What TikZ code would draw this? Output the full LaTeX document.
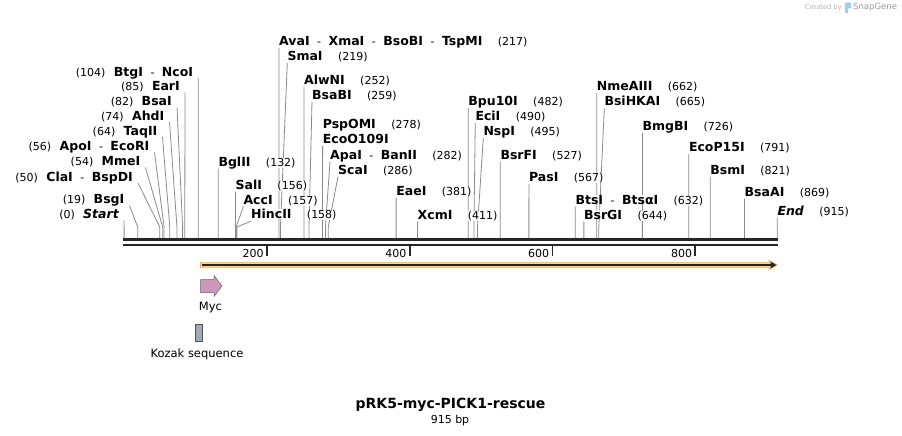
\documentclass[tikz,border=0pt]{standalone}
\usepackage{fontspec}
\setmainfont{DejaVu Sans}
\usetikzlibrary{arrows.meta}
\pgfdeclarelayer{bg}
\pgfsetlayers{bg,main}
\definecolor{cutline}{HTML}{8A8A8A}
\definecolor{spine}{HTML}{262626}
\definecolor{orf}{HTML}{FAD58C}
\definecolor{orfedge}{HTML}{F0B454}
\definecolor{myc}{HTML}{CC9AB9}
\definecolor{mycedge}{HTML}{6E5A66}
\definecolor{kozak}{HTML}{A4A9B1}
\definecolor{kozakedge}{HTML}{4E5359}
\definecolor{credit}{HTML}{B4B4B4}
\definecolor{logoblue}{HTML}{9CCFF0}
\newcommand{\sitesep}{\hspace{7.5pt}{\mdseries\fontsize{11}{13}\selectfont-}\hspace{7.5pt}}
\newcommand{\bpx}[1]{124.1+0.7139*#1}

\begin{document}
\begin{tikzpicture}[x=1pt, y=-1pt,
    enz/.style={font=\fontsize{12.5}{14}\selectfont\bfseries, inner sep=0pt,
      fill=white, fill opacity=0.85, text opacity=1},
    bpnum/.style={font=\fontsize{11}{13}\selectfont, inner sep=0pt,
      fill=white, fill opacity=0.85, text opacity=1},
    cutln/.style={draw=cutline, line width=0.8pt},
    ticklbl/.style={font=\fontsize{11}{13}\selectfont, inner sep=0pt, anchor=east},
    featlbl/.style={font=\fontsize{11.5}{13}\selectfont, inner sep=0pt}]
  \useasboundingbox (0,0) rectangle (902,436);
  % backbone
  \coordinate (bbL) at (123.4,239.7);
  \coordinate (bbR) at (778.3,239.7);
  \draw[spine, line width=2.8pt] (bbL) -- (bbR);
  \draw[spine, line width=2.8pt] ([yshift=-5.2pt]bbL) -- ([yshift=-5.2pt]bbR);
  \foreach \t in {200,400,600,800}{
    \coordinate (tk\t) at ({\bpx{\t}},246);
    \draw[spine, line width=1.8pt] (tk\t) -- ++(0,10);
    \node[ticklbl] (tl\t) at ([xshift=-3pt,yshift=-7pt]tk\t) {\t};
  }
  % sites left of their line
  \foreach \bp/\ex/\cy/\nm in {104/193.3/72/{BtgI\sitesep NcoI},
      85/180/86.5/EarI, 82/172/101.5/BsaI, 74/164.5/116/AhdI,
      64/157.5/131/TaqII, 56/149.5/146.5/{ApoI\sitesep EcoRI},
      54/140.5/161.5/MmeI, 50/133/177/{ClaI\sitesep BspDI},
      19/124.5/199.5/BsgI, 0/119/214.5/{\itshape Start}}{
    \node[enz, anchor=base east] (lab\bp) at (\ex,\cy+4.2) {\nm};
    \node[bpnum, anchor=base east] (num\bp) at ([xshift=-8pt]lab\bp.base west) {(\bp)};
    \coordinate (knee\bp) at ({\bpx{\bp}},227);
    \coordinate (cut\bp) at ({\bpx{\bp}},239);
    \begin{pgfonlayer}{bg}
      \draw[cutln] ([xshift=5pt,yshift=-1.8pt]lab\bp.base east) -- (knee\bp) -- (cut\bp);
    \end{pgfonlayer}
  }
  % sites right of their line
  \foreach \bp/\wx/\cy/\nm in {217/279.0/41.5/{AvaI\sitesep XmaI\sitesep BsoBI\sitesep TspMI},
      219/287.3/56.5/SmaI, 252/304.0/80/AlwNI, 259/312/95/BsaBI,
      282/330/155/{ApaI\sitesep BanII}, 286/338/170/ScaI,
      132/218.3/162/BglII, 156/235.5/185/SalI, 157/243.3/200/AccI,
      158/251/214.7/HincII, 381/396.1/191.5/EaeI,
      482/468.2/101.5/Bpu10I, 490/475.3/116.5/EciI, 495/483.3/131.5/NspI,
      527/500.3/155/BsrFI, 567/528.9/177.3/PasI,
      632/575.3/200/{BtsI\sitesep BtsαI}, 644/583.9/215/BsrGI,
      662/596.7/86.7/NmeAIII, 665/604.3/101.7/BsiHKAI, 726/642.4/126/BmgBI,
      791/688.8/147.5/EcoP15I, 821/710.2/170/BsmI, 869/744.5/192/BsaAI,
      915/777.3/211/{\itshape End}, 411/417.5/215/XcmI}{
    \node[enz, anchor=base west] (lab\bp) at (\wx,\cy+4.2) {\nm};
    \node[bpnum, anchor=base west] (num\bp) at ([xshift=15pt]lab\bp.base east) {(\bp)};
    \coordinate (knee\bp) at ({\bpx{\bp}},227);
    \coordinate (cut\bp) at ({\bpx{\bp}},239);
    \begin{pgfonlayer}{bg}
      \draw[cutln] ([yshift=-2.3pt]lab\bp.base west) -- (knee\bp) -- (cut\bp);
    \end{pgfonlayer}
  }
  % two enzymes on one site
  \node[enz, anchor=base west] (labPsp) at (322.6,128.5) {PspOMI};
  \node[bpnum, anchor=base west] (num278) at ([xshift=15pt]labPsp.base east) {(278)};
  \node[enz, anchor=base west] (lab278) at (322.6,143.5) {EcoO109I};
  \coordinate (cut278) at ({\bpx{278}},239);
  \begin{pgfonlayer}{bg}
    \draw[cutln] ([yshift=-2.3pt]lab278.base west) -- (cut278);
  \end{pgfonlayer}
  % ORF arrow
  \coordinate (orfA) at (200.5,265);
  \coordinate (orfB) at (777.5,265);
  \fill[orf, draw=orfedge, line width=0.6pt] ([yshift=2.7pt]orfA) -- ([xshift=-8.5pt,yshift=2.7pt]orfB)
    -- ([xshift=-8.5pt,yshift=4.6pt]orfB) -- (orfB) -- ([xshift=-8.5pt,yshift=-4.6pt]orfB)
    -- ([xshift=-8.5pt,yshift=-2.7pt]orfB) -- ([yshift=-2.7pt]orfA) -- cycle;
  \draw[spine, line width=1.7pt, -{Triangle[length=6pt,width=6.5pt]}]
    ([xshift=1.5pt]orfA) -- ([xshift=-1pt]orfB);
  % features
  \fill[myc, draw=mycedge, line width=0.5pt] (200.5,279.5) -- (214,279.5) -- (214,275.5)
    -- (222,286) -- (214,296.5) -- (214,292.5) -- (200.5,292.5) -- cycle;
  \node[featlbl] (myclbl) at (210.5,307.5) {Myc};
  \fill[kozak, draw=kozakedge, line width=0.5pt] (195.5,324.5) rectangle (202.5,341);
  \node[featlbl] (kozlbl) at (197,354.5) {Kozak sequence};
  % title
  \node[font=\fontsize{14}{16}\selectfont\bfseries, inner sep=0pt] (title) at (450.5,405) {pRK5-myc-PICK1-rescue};
  \node[font=\fontsize{11}{13}\selectfont, inner sep=0pt] (size) at (450,420) {915 bp};
  % credit
  \node[font=\fontsize{6.7}{8}\selectfont, text=credit, inner sep=0pt, anchor=east] (made) at (842,7.5) {Created by};
  \fill[logoblue, rounded corners=1pt] (845,2.5) rectangle (851,8.5);
  \fill[logoblue] (845,5) rectangle (847.5,13);
  \node[font=\fontsize{8.5}{10}\selectfont, text=credit!85!black, inner sep=0pt, anchor=west] (snap) at (853,7.5) {SnapGene};
\end{tikzpicture}
\end{document}
